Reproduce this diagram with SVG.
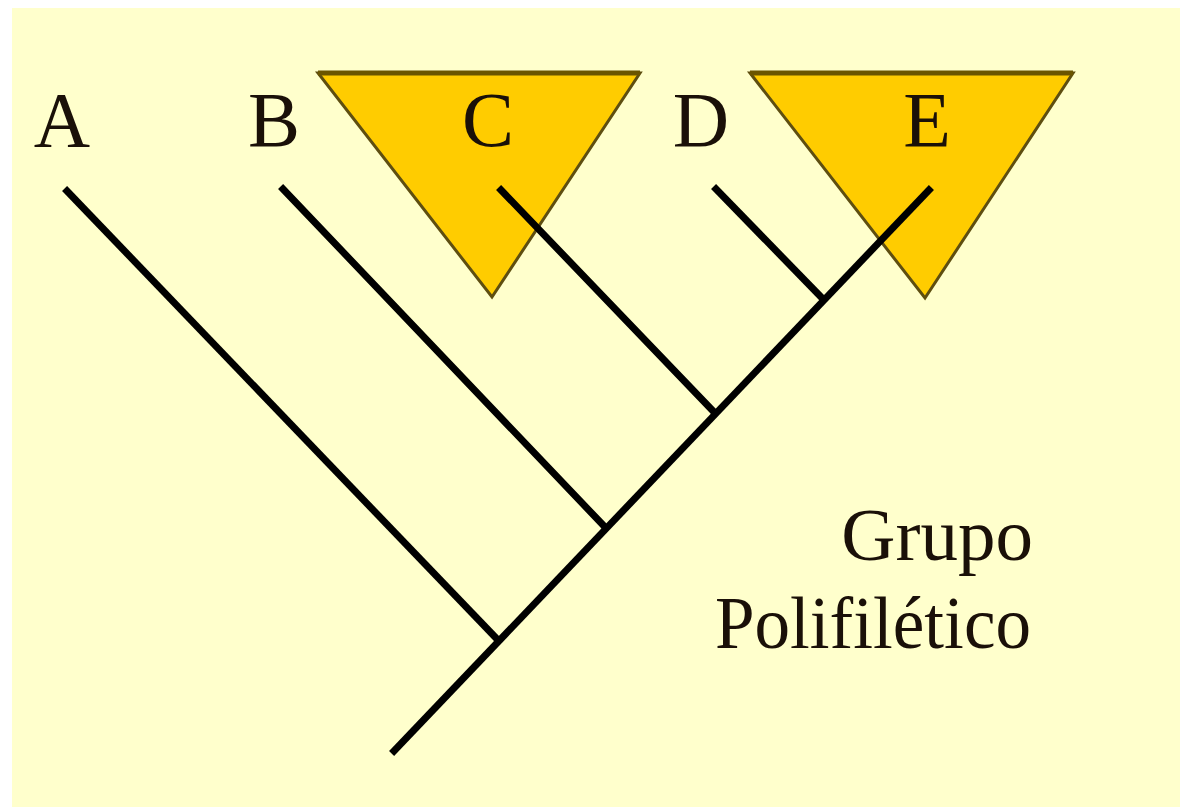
<svg xmlns="http://www.w3.org/2000/svg" width="1180" height="807" viewBox="0 0 1180 807">
<style>
.tri{fill:#FFCC00;stroke:#5e4e10;stroke-width:3;stroke-linejoin:miter}
.top{stroke:#6b5500;stroke-width:5}
.br{stroke:#000;stroke-width:7;stroke-linecap:square;fill:none}
.lbl{font-family:"Liberation Serif","Times New Roman",serif;font-size:78px;fill:#1a1008}
.cap{font-family:"Liberation Serif","Times New Roman",serif;font-size:75px;fill:#1a1008;text-anchor:end}
</style>
<rect x="0" y="0" width="1180" height="807" fill="#ffffff"/>
<rect x="12" y="8" width="1168" height="799" fill="#FFFFCC"/>
<g id="cladeC">
<polygon class="tri" points="318,73 640,73 492,297"/>
<line class="top" x1="318" y1="73" x2="640" y2="73"/>
</g>
<g id="cladeE">
<polygon class="tri" points="750,73 1073,73 925,298"/>
<line class="top" x1="750" y1="73" x2="1073" y2="73"/>
</g>
<g id="connectors">
<line class="br" x1="394" y1="751" x2="929" y2="190"/>
<line class="br" x1="67" y1="191" x2="496" y2="638"/>
<line class="br" x1="283" y1="189" x2="603" y2="525"/>
<line class="br" x1="501" y1="190" x2="713" y2="411"/>
<line class="br" x1="716" y1="189" x2="822" y2="298"/>
</g>
<g id="labelA"><text class="lbl" x="62" y="146" text-anchor="middle">A</text></g>
<g id="labelB"><text class="lbl" x="274" y="146" text-anchor="middle">B</text></g>
<g id="labelC"><text class="lbl" x="488" y="146" text-anchor="middle">C</text></g>
<g id="labelD"><text class="lbl" x="701" y="146" text-anchor="middle">D</text></g>
<g id="labelE"><text class="lbl" x="927" y="146" text-anchor="middle">E</text></g>
<g id="caption">
<text class="cap" x="1033" y="560">Grupo</text>
<text class="cap" x="1031" y="648" textLength="316" lengthAdjust="spacingAndGlyphs">Polifilético</text>
</g>
</svg>
